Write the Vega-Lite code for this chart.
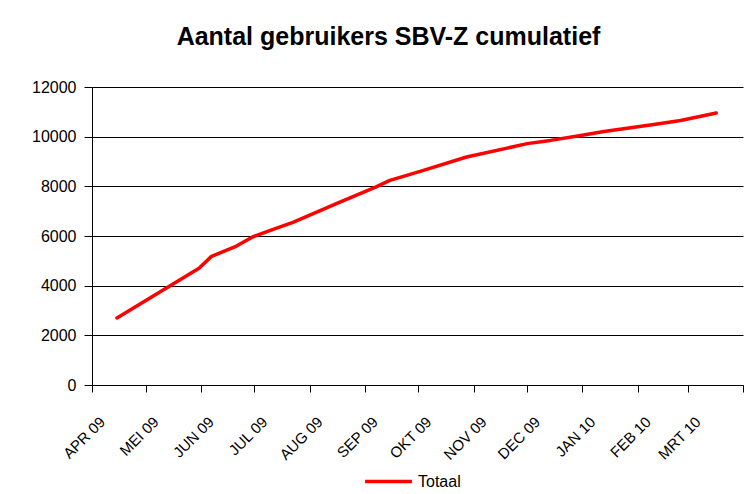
{
  "$schema": "https://vega.github.io/schema/vega-lite/v6.json",
  "width": 651,
  "height": 298,
  "autosize": {"type": "none"},
  "padding": {"left": 92, "top": 87, "right": 7, "bottom": 109},
  "background": "white",
  "title": {
    "text": "Aantal gebruikers SBV-Z cumulatief",
    "font": "Liberation Sans",
    "fontSize": 25,
    "fontWeight": "bold",
    "color": "black",
    "anchor": "middle",
    "dx": -29,
    "offset": 29
  },
  "data": {
    "values": [
      {"datum": "2009-04-15", "gebruikers": 2700, "serie": "Totaal"},
      {"datum": "2009-05-31", "gebruikers": 4700, "serie": "Totaal"},
      {"datum": "2009-06-07", "gebruikers": 5180, "serie": "Totaal"},
      {"datum": "2009-06-20", "gebruikers": 5560, "serie": "Totaal"},
      {"datum": "2009-06-30", "gebruikers": 5960, "serie": "Totaal"},
      {"datum": "2009-07-10", "gebruikers": 6230, "serie": "Totaal"},
      {"datum": "2009-07-23", "gebruikers": 6560, "serie": "Totaal"},
      {"datum": "2009-08-16", "gebruikers": 7300, "serie": "Totaal"},
      {"datum": "2009-09-07", "gebruikers": 7970, "serie": "Totaal"},
      {"datum": "2009-09-15", "gebruikers": 8240, "serie": "Totaal"},
      {"datum": "2009-10-02", "gebruikers": 8600, "serie": "Totaal"},
      {"datum": "2009-10-28", "gebruikers": 9180, "serie": "Totaal"},
      {"datum": "2009-12-01", "gebruikers": 9720, "serie": "Totaal"},
      {"datum": "2009-12-14", "gebruikers": 9850, "serie": "Totaal"},
      {"datum": "2009-12-31", "gebruikers": 10050, "serie": "Totaal"},
      {"datum": "2010-01-13", "gebruikers": 10210, "serie": "Totaal"},
      {"datum": "2010-02-10", "gebruikers": 10490, "serie": "Totaal"},
      {"datum": "2010-02-25", "gebruikers": 10650, "serie": "Totaal"},
      {"datum": "2010-03-17", "gebruikers": 10950, "serie": "Totaal"}
    ]
  },
  "mark": {"type": "line", "strokeWidth": 3.5, "strokeJoin": "round", "strokeCap": "round"},
  "encoding": {
    "x": {
      "field": "datum",
      "type": "temporal",
      "scale": {
        "type": "utc",
        "domain": [
          {"year": 2009, "month": 4, "date": 1, "utc": true},
          {"year": 2010, "month": 4, "date": 1, "utc": true}
        ]
      },
      "axis": {
        "title": null,
        "grid": false,
        "values": [
          {"year": 2009, "month": 4, "date": 1, "utc": true},
          {"year": 2009, "month": 5, "date": 1, "utc": true},
          {"year": 2009, "month": 6, "date": 1, "utc": true},
          {"year": 2009, "month": 7, "date": 1, "utc": true},
          {"year": 2009, "month": 8, "date": 1, "utc": true},
          {"year": 2009, "month": 9, "date": 1, "utc": true},
          {"year": 2009, "month": 10, "date": 1, "utc": true},
          {"year": 2009, "month": 11, "date": 1, "utc": true},
          {"year": 2009, "month": 12, "date": 1, "utc": true},
          {"year": 2010, "month": 1, "date": 1, "utc": true},
          {"year": 2010, "month": 2, "date": 1, "utc": true},
          {"year": 2010, "month": 3, "date": 1, "utc": true},
          {"year": 2010, "month": 4, "date": 1, "utc": true}
        ],
        "labelExpr": "(utcyear(datum.value) == 2010 && utcmonth(datum.value) == 3) ? '' : ['JAN','FEB','MRT','APR','MEI','JUN','JUL','AUG','SEP','OKT','NOV','DEC'][utcmonth(datum.value)] + ' ' + utcFormat(datum.value, '%y')",
        "labelAngle": -45,
        "labelAlign": "right",
        "labelBaseline": "middle",
        "labelOffset": 10,
        "labelPadding": 27,
        "labelFont": "Liberation Sans",
        "labelFontSize": 15,
        "labelColor": "black",
        "labelOverlap": false,
        "labelBound": false,
        "labelFlush": false,
        "tickSize": 7,
        "tickColor": "black",
        "tickWidth": 1,
        "domainColor": "black",
        "domainWidth": 1
      }
    },
    "y": {
      "field": "gebruikers",
      "type": "quantitative",
      "scale": {"domain": [0, 12000], "nice": false, "zero": true},
      "axis": {
        "title": null,
        "values": [0, 2000, 4000, 6000, 8000, 10000, 12000],
        "format": "d",
        "grid": true,
        "gridColor": "black",
        "gridWidth": 1,
        "gridOpacity": 1,
        "tickSize": 8,
        "tickColor": "black",
        "tickWidth": 1,
        "domainColor": "black",
        "domainWidth": 1,
        "labelPadding": 8,
        "labelFont": "Liberation Sans",
        "labelFontSize": 16,
        "labelColor": "black"
      }
    },
    "color": {
      "field": "serie",
      "type": "nominal",
      "scale": {"range": ["#FF0000"]},
      "legend": {
        "title": null,
        "orient": "none",
        "legendX": 271,
        "legendY": 369,
        "direction": "horizontal",
        "symbolType": "stroke",
        "symbolSize": 2200,
        "symbolStrokeWidth": 3.5,
        "labelFont": "Liberation Sans",
        "labelFontSize": 16,
        "labelColor": "black",
        "labelOffset": 4,
        "padding": 0
      }
    }
  },
  "config": {
    "view": {"stroke": null},
    "axis": {"labelFont": "Liberation Sans"}
  }
}
